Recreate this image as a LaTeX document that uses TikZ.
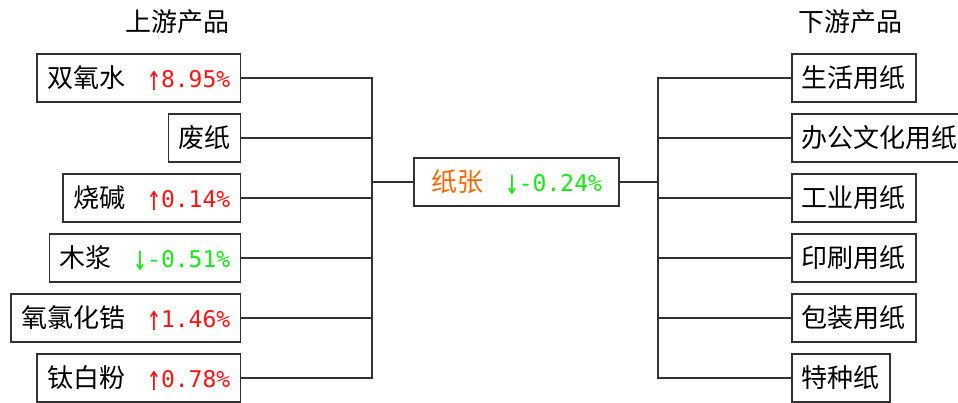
\documentclass[tikz,border=0pt]{standalone}
\usepackage{fontspec}
\setmainfont{Noto Sans CJK SC}
\newfontfamily\pctfont{DejaVu Sans Mono}
\usetikzlibrary{calc}
\usetikzlibrary{positioning}

\definecolor{upred}{RGB}{255,20,20}
\definecolor{downgreen}{RGB}{20,235,20}
\definecolor{paperorange}{RGB}{255,102,0}
\definecolor{frame}{RGB}{50,50,50}

\newcommand{\pctsize}{\fontsize{23}{28}\selectfont}
\newcommand{\tallarrow}[1]{\raisebox{-0.12em}{\scalebox{1}[1.55]{#1}}}
\newcommand{\upval}[1]{\hspace{22pt}{\pctfont\pctsize\color{upred}\tallarrow{↑}#1\%}}
\newcommand{\downval}[1]{\hspace{22pt}{\pctfont\pctsize\color{downgreen}\tallarrow{↓}-#1\%}}

\begin{document}
\begin{tikzpicture}[%
  x=1pt, y=-1pt,
  font=\fontsize{26}{30}\selectfont,
  itembox/.style={draw=frame, line width=1.5pt, minimum height=48pt,
    inner xsep=10pt, inner ysep=0pt},
  link/.style={draw=frame, line width=1.5pt},
]

  \useasboundingbox (0,0) rectangle (958,403);

  \node (uptitle) at (177,22) {上游产品};
  \node (downtitle) at (850,22) {下游产品};

  % upstream
  \node[itembox, anchor=east] (u1) at (241,78)  {双氧水\upval{8.95}};
  \node[itembox, anchor=east] (u2) at (241,138) {废纸};
  \node[itembox, anchor=east] (u3) at (241,198) {烧碱\upval{0.14}};
  \node[itembox, anchor=east] (u4) at (241,258) {木浆\downval{0.51}};
  \node[itembox, anchor=east] (u5) at (241,318) {氧氯化锆\upval{1.46}};
  \node[itembox, anchor=east] (u6) at (241,378) {钛白粉\upval{0.78}};

  % paper
  \node[itembox, minimum width=205pt] (paper) at (516.5,182)
    {{\color{paperorange}纸张}\downval{0.24}};

  % downstream
  \node[itembox, anchor=west] (d1) at (791,78)  {生活用纸};
  \node[itembox, anchor=west] (d2) at (791,138) {办公文化用纸};
  \node[itembox, anchor=west] (d3) at (791,198) {工业用纸};
  \node[itembox, anchor=west] (d4) at (791,258) {印刷用纸};
  \node[itembox, anchor=west] (d5) at (791,318) {包装用纸};
  \node[itembox, anchor=west] (d6) at (791,378) {特种纸};

  \coordinate (lbus) at (372,182);
  \coordinate (rbus) at (658,182);

  \foreach \i in {1,...,6} {
    \draw[link] (u\i.east) -| (lbus);
    \draw[link] (rbus) |- (d\i.west);
  }
  \draw[link] (lbus) -- (paper.west);
  \draw[link] (paper.east) -- (rbus);

\end{tikzpicture}
\end{document}
